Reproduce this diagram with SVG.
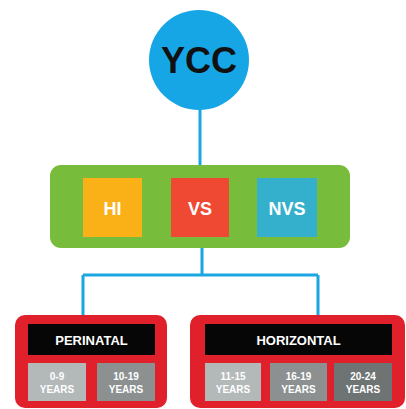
<svg xmlns="http://www.w3.org/2000/svg" width="406" height="409" viewBox="0 0 406 409">
<style>
.t{font-family:"Liberation Sans",Arial,sans-serif;font-weight:bold;text-anchor:middle}
.w{fill:#ffffff}
.s{font-size:10px}
.c{stroke:#1aa6e0;stroke-width:3;fill:none}
</style>
<rect width="406" height="409" fill="#ffffff"/>
<g id="connectors">
<line class="c" x1="200" y1="108" x2="200" y2="166"/>
<path class="c" d="M202 248 V275 M83 275 H318 M83 275 V318 M318 275 V318"/>
</g>
<g id="ycc">
<circle cx="199" cy="60" r="50" fill="#16a6e6"/>
<text class="t" x="199" y="73" font-size="36" fill="#111111">YCC</text>
</g>
<g id="group">
<rect x="50" y="165" width="300" height="83" rx="11" fill="#78bc3c"/>
<g id="hi"><rect x="83" y="178" width="59" height="59" fill="#f9b117"/><text class="t w" x="112.5" y="215" font-size="18">HI</text></g>
<g id="vs"><rect x="171" y="178" width="58" height="59" fill="#ef4934"/><text class="t w" x="200" y="215" font-size="18">VS</text></g>
<g id="nvs"><rect x="257" y="178" width="60" height="59" fill="#34b0cc"/><text class="t w" x="287" y="215" font-size="18">NVS</text></g>
</g>
<g id="perinatal">
<rect x="15" y="315" width="152" height="93" rx="10" fill="#e0202a"/>
<rect x="28" y="324" width="127" height="31" fill="#060606"/>
<text class="t w" x="91.5" y="345" font-size="13">PERINATAL</text>
<rect x="28" y="363" width="58" height="38" fill="#b3b8b8"/>
<text class="t w s" x="57" y="380">0-9</text><text class="t w s" x="57" y="393">YEARS</text>
<rect x="97" y="363" width="58" height="38" fill="#8c9090"/>
<text class="t w s" x="126" y="380">10-19</text><text class="t w s" x="126" y="393">YEARS</text>
</g>
<g id="horizontal">
<rect x="190" y="315" width="215" height="93" rx="10" fill="#e0202a"/>
<rect x="205" y="324" width="187" height="31" fill="#060606"/>
<text class="t w" x="298.5" y="345" font-size="13">HORIZONTAL</text>
<rect x="205" y="363" width="56" height="38" fill="#b3b8b8"/>
<text class="t w s" x="233" y="380">11-15</text><text class="t w s" x="233" y="393">YEARS</text>
<rect x="270" y="363" width="57" height="38" fill="#8c9090"/>
<text class="t w s" x="298.5" y="380">16-19</text><text class="t w s" x="298.5" y="393">YEARS</text>
<rect x="334" y="363" width="58" height="38" fill="#6e7373"/>
<text class="t w s" x="363" y="380">20-24</text><text class="t w s" x="363" y="393">YEARS</text>
</g>
</svg>
